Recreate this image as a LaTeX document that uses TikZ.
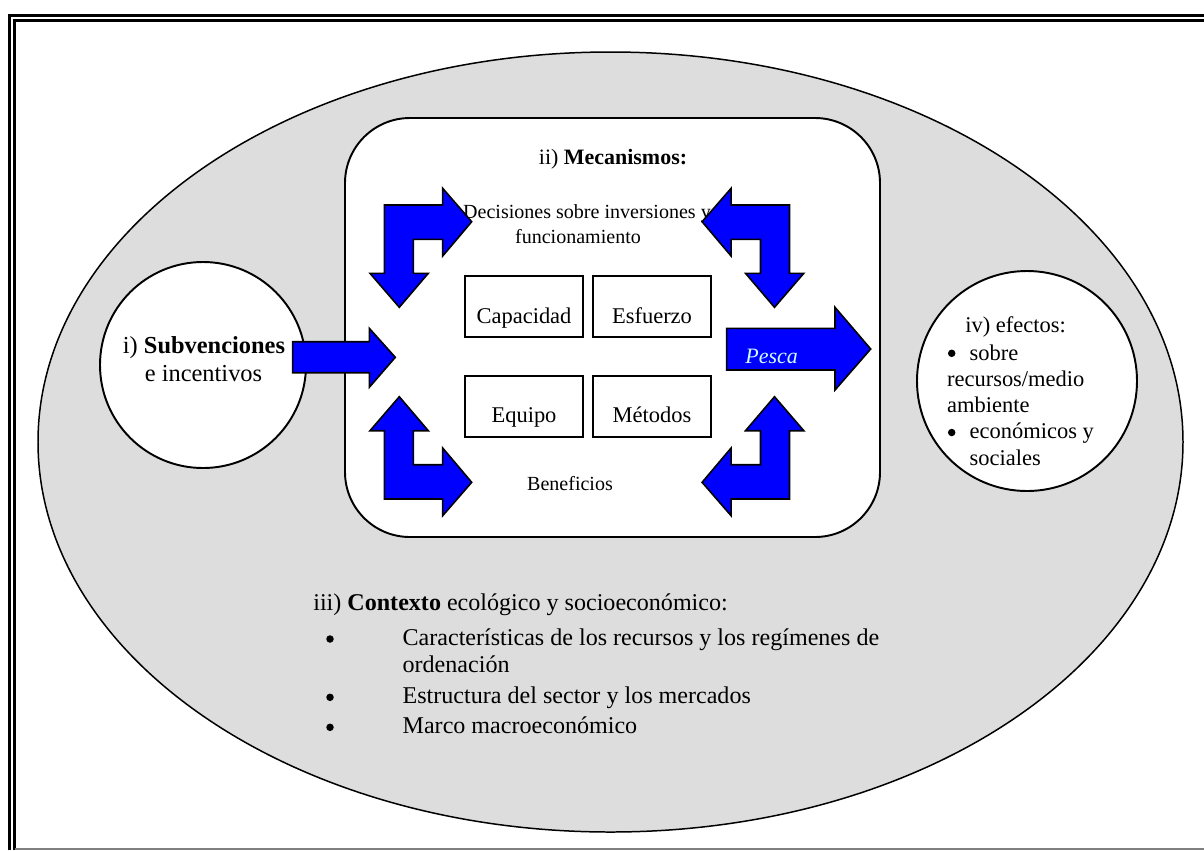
\documentclass[tikz,border=0pt]{standalone}
\usepackage{fontspec}
\setmainfont{Liberation Serif}
\usetikzlibrary{positioning}
\definecolor{ellgray}{HTML}{DDDDDD}
\definecolor{pescacyan}{HTML}{CCFFFF}
\tikzset{
  blockarrow/.style={fill=blue, draw=black, line width=0.9pt, line join=miter},
  bentarrow/.pic={\draw[blockarrow] (0,0) -- (58.4,0) -- (58.4,-16.7) -- (87.4,16.7) -- (58.4,51) -- (58.4,34.3) -- (29,34.3) -- (29,68.3) -- (44,68.3) -- (15,102.3) -- (-14.3,68.3) -- (0,68.3) -- cycle;}
}

\begin{document}
\begin{tikzpicture}[x=0.02cm, y=-0.02cm,
  ctxtext/.style={font=\fontsize{13.7}{15.4}\selectfont, inner sep=0pt},
  circtext/.style={font=\fontsize{12.8}{15}\selectfont, inner sep=0pt},
  subvtext/.style={font=\fontsize{13.9}{15}\selectfont, inner sep=0pt},
  smalltext/.style={font=\fontsize{11.4}{14}\selectfont, inner sep=0pt},
  bulletdot/.style={circle, fill, inner sep=0pt, minimum size=0.15cm},
  minibox/.style={draw, line width=0.8pt}]
\useasboundingbox (0,0) rectangle (1204,850);
\draw[line width=1.6pt] (9.5,850) -- (9.5,15.5) -- (1204,15.5);
\draw[line width=1.6pt] (14.5,850) -- (14.5,20.5) -- (1204,20.5);
\draw[gray, line width=1pt] (14.5,849) -- (1204,849);
\draw[fill=ellgray, line width=0.85pt] (610.5,442) ellipse [x radius=572.5, y radius=390];
\draw[fill=white, line width=1.1pt] (203,365) circle [radius=103];
\draw[fill=white, line width=1.1pt] (1027,381) circle [radius=110];
\draw[fill=white, line width=1.1pt, rounded corners=1.3cm] (345,118) rectangle (880,537);
\draw[minibox] (465,276) rectangle (583,337);
\draw[minibox] (593,276) rectangle (711,337);
\draw[minibox] (465,376) rectangle (583,437);
\draw[minibox] (593,376) rectangle (711,437);
\node[circtext, anchor=base] (capacidad) at (524,323) {Capacidad};
\node[circtext, anchor=base] (esfuerzo) at (652,323) {Esfuerzo};
\node[circtext, anchor=base] (equipo) at (524,422) {Equipo};
\node[circtext, anchor=base] (metodos) at (652,422) {Métodos};
\node[circtext, font=\fontsize{12.5}{15}\selectfont, anchor=base] (mecanismos) at (613,164) {ii) \textbf{Mecanismos:}};
\node[smalltext, anchor=base] (decisiones) at (587,218) {Decisiones sobre inversiones y};
\node[smalltext, anchor=base] (funcionamiento) at (578,243) {funcionamiento};
\node[smalltext, anchor=base] (beneficios) at (570,490) {Beneficios};
\node[subvtext, anchor=base] (subvenciones) at (204,353.3) {i) \textbf{Subvenciones}};
\node[subvtext, anchor=base] (incentivos) at (203.5,381) {e incentivos};
\node[circtext, anchor=base west] (efectos) at (965,332.7) {iv) efectos:};
\node[bulletdot] (bulleta) at (951.7,353.3) {};
\node[circtext, anchor=base west] (sobre) at (969.3,360) {sobre};
\node[circtext, anchor=base west] (recursos) at (946.7,386) {recursos/medio};
\node[circtext, anchor=base west] (ambiente) at (946.7,412) {ambiente};
\node[bulletdot] (bulletb) at (951.7,432.5) {};
\node[circtext, anchor=base west] (economicos) at (969.3,438.3) {económicos y};
\node[circtext, anchor=base west] (sociales) at (969.3,465) {sociales};
\node[ctxtext, anchor=base west] (contexto) at (313,610) {iii) \textbf{Contexto} ecológico y socioeconómico:};
\node[bulletdot] (bulletc) at (330,639) {};
\node[ctxtext, anchor=base west] (caracteristicas) at (402.3,645) {Características de los recursos y los regímenes de};
\node[ctxtext, anchor=base west] (ordenacion) at (402.3,672.3) {ordenación};
\node[bulletdot] (bulletd) at (330,697.3) {};
\node[ctxtext, anchor=base west] (estructura) at (402.3,703.3) {Estructura del sector y los mercados};
\node[bulletdot] (bullete) at (330,727.3) {};
\node[ctxtext, anchor=base west] (marco) at (402.3,733.3) {Marco macroeconómico};
\draw[blockarrow] (292.7,341.7) -- (369.3,341.7) -- (369.3,328.3) -- (395.3,357.3) -- (369.3,387.3) -- (369.3,372.7) -- (292.7,372.7) -- cycle;
\draw[blockarrow] (726.7,328.3) -- (835,328.3) -- (835,307.3) -- (870.7,349) -- (835,390) -- (835,370) -- (726.7,370) -- cycle;
\pic at (384.3,205) {bentarrow};
\pic[xscale=-1] at (789.5,205) {bentarrow};
\pic[yscale=-1] at (384.3,499) {bentarrow};
\pic[xscale=-1, yscale=-1] at (789.5,499) {bentarrow};
\node[circtext, font=\fontsize{12.5}{15}\selectfont\itshape, text=pescacyan, anchor=base west] (pesca) at (745,363) {Pesca};
\end{tikzpicture}
\end{document}
